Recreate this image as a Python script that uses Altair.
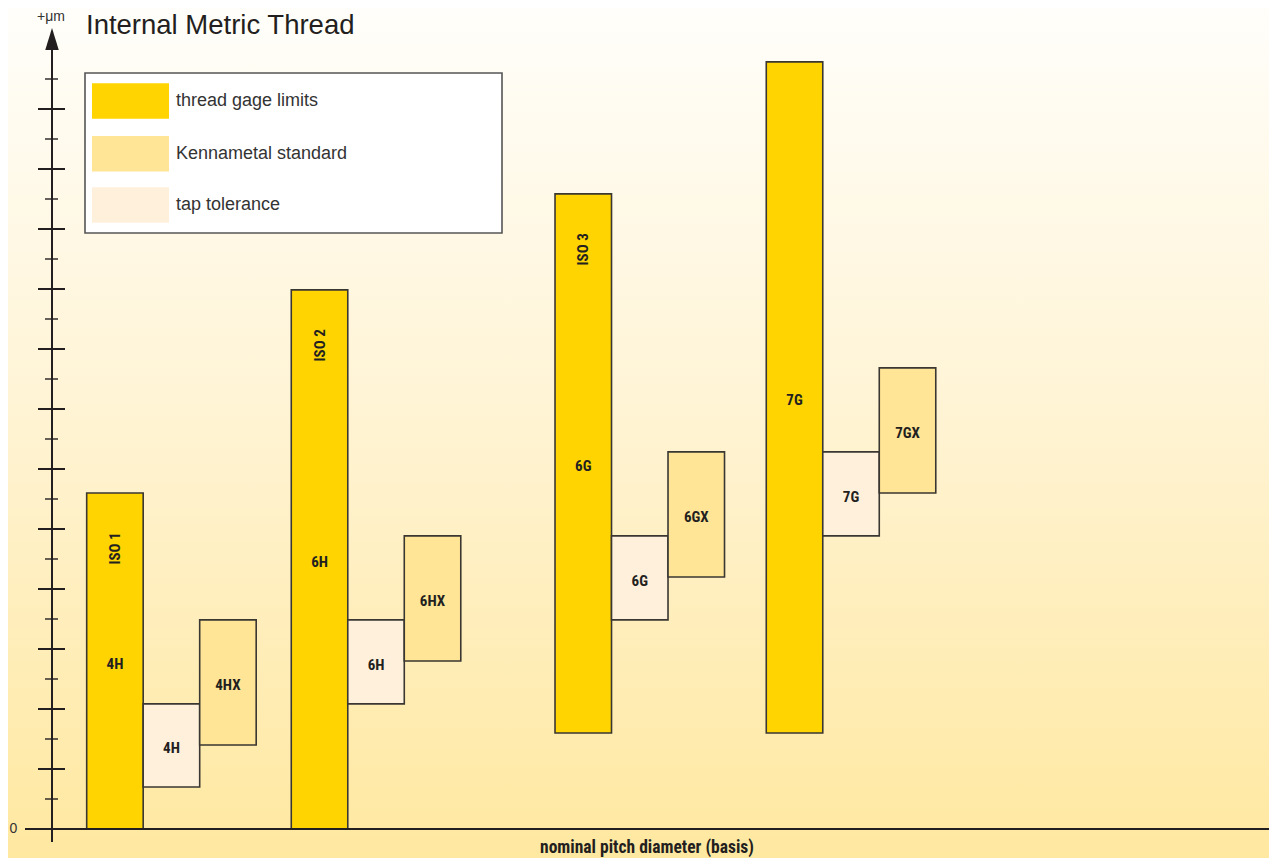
import altair as alt
import pandas as pd

# ---------------- data ----------------
# left edge of each group of three bars, in bar widths measured from the y axis
group_start = [0.614, 4.235, 8.903, 12.642]
iso_labels = ["ISO 1", "ISO 2", "ISO 3", ""]

gage_labels = ["4H", "6H", "6G", "7G"]
gage_low = [0.0, 0.0, 3.2, 3.2]
gage_high = [11.2, 17.97, 21.17, 25.57]

tap_labels = ["4H", "6H", "6G", "7G"]
tap_low = [1.4, 4.17, 6.97, 9.77]
tap_high = [4.17, 6.97, 9.77, 12.57]

kenn_labels = ["4HX", "6HX", "6GX", "7GX"]
kenn_low = [2.8, 5.6, 8.4, 11.2]
kenn_high = [6.97, 9.77, 12.57, 15.37]

series = ["thread gage limits", "Kennametal standard", "tap tolerance"]
major_ticks = [2, 4, 6, 8, 10, 12, 14, 16, 18, 20, 22, 24]
minor_ticks = [1, 3, 5, 7, 9, 11, 13, 15, 17, 19, 21, 23, 25]

title_text = "Internal Metric Thread"
unit_text = "+\u03bcm"
x_title = "nominal pitch diameter (basis)"

# ---------------- styles ----------------
colors = ["#FFD400", "#FFE595", "#FFF0DC"]
ink = "#231F20"
edge = "#3A3632"
cond = "Liberation Sans Narrow, Roboto Condensed, DejaVu Sans Condensed, sans-serif"
reg = "Liberation Sans, Arial, Helvetica, sans-serif"
W, H = 1261, 850

# ---------------- tables ----------------
rows = []
for i in range(len(group_start)):
    s = group_start[i]
    rows.append(dict(kind=series[0], x0=s, x1=s + 1, y0=gage_low[i], y1=gage_high[i], label=gage_labels[i]))
    rows.append(dict(kind=series[2], x0=s + 1, x1=s + 2, y0=tap_low[i], y1=tap_high[i], label=tap_labels[i]))
    rows.append(dict(kind=series[1], x0=s + 2, x1=s + 3, y0=kenn_low[i], y1=kenn_high[i], label=kenn_labels[i]))
bars_df = pd.DataFrame(rows)

iso_df = pd.DataFrame({"x0": group_start, "top": gage_high, "label": iso_labels})
iso_df = iso_df[iso_df["label"] != ""]

major_df = pd.DataFrame({"v": major_ticks})
minor_df = pd.DataFrame({"v": minor_ticks})
zero_df = pd.DataFrame({"v": [0], "t": ["0"]})
one = pd.DataFrame({"d": [0]})

xs = alt.Scale(domain=[-44 / 56.5, 1217 / 56.5], nice=False, zero=False)
ys = alt.Scale(domain=[-29 / 30, 821 / 30], nice=False, zero=False)

gradient = {
    "gradient": "linear", "x1": 0, "y1": 0, "x2": 0, "y2": 1,
    "stops": [
        {"offset": 0, "color": "#FFFEFA"},
        {"offset": 0.45, "color": "#FFF4D6"},
        {"offset": 1, "color": "#FFE8A0"},
    ],
}

bg = alt.Chart(one).mark_rect(fill=gradient, strokeWidth=0).encode(
    x=alt.value(0), x2=alt.value(W), y=alt.value(0), y2=alt.value(H)
)

bars = alt.Chart(bars_df).mark_rect(stroke=edge, strokeWidth=1.6).encode(
    x=alt.X("x0:Q", scale=xs, axis=None),
    x2="x1:Q",
    y=alt.Y("y0:Q", scale=ys, axis=None),
    y2="y1:Q",
    fill=alt.Fill("kind:N", scale=alt.Scale(domain=series, range=colors), legend=None),
)

bar_text = alt.Chart(bars_df).transform_calculate(
    xm="(datum.x0 + datum.x1) / 2", ym="(datum.y0 + datum.y1) / 2"
).mark_text(font=cond, fontWeight="bold", fontSize=15, color=ink, baseline="middle", align="center", dy=3).encode(
    x=alt.X("xm:Q", scale=xs, axis=None),
    y=alt.Y("ym:Q", scale=ys, axis=None),
    text="label:N",
)

iso_text = alt.Chart(iso_df).transform_calculate(
    xm="datum.x0 + 0.5", ym="datum.top - 1.85"
).mark_text(font=cond, fontWeight="bold", fontSize=15, color=ink, baseline="middle", align="center", angle=270).encode(
    x=alt.X("xm:Q", scale=xs, axis=None),
    y=alt.Y("ym:Q", scale=ys, axis=None),
    text="label:N",
)

major = alt.Chart(major_df).mark_rule(color=ink, strokeWidth=2).encode(
    y=alt.Y("v:Q", scale=ys, axis=None), x=alt.value(30), x2=alt.value(57)
)
minor = alt.Chart(minor_df).mark_rule(color=ink, strokeWidth=1.4).encode(
    y=alt.Y("v:Q", scale=ys, axis=None), x=alt.value(37), x2=alt.value(50)
)
zero_line = alt.Chart(zero_df).mark_rule(color=ink, strokeWidth=2).encode(
    y=alt.Y("v:Q", scale=ys, axis=None), x=alt.value(17), x2=alt.value(W)
)
zero_label = alt.Chart(zero_df).mark_text(font=reg, fontSize=14, color="#333333", align="center", baseline="middle").encode(
    y=alt.Y("v:Q", scale=ys, axis=None), x=alt.value(5.5), text="t:N"
)
axis_line = alt.Chart(one).mark_rule(color=ink, strokeWidth=2).encode(
    x=alt.value(44), y=alt.value(38), y2=alt.value(834)
)
arrow = alt.Chart(one).mark_point(
    shape="M0,-22L6.75,0L-6.75,0Z", size=4, filled=True, fill=ink, strokeWidth=0, opacity=1
).encode(x=alt.value(44), y=alt.value(42))

unit = alt.Chart(one).mark_text(text=unit_text, font=reg, fontSize=14, color="#333333", align="center", baseline="middle").encode(
    x=alt.value(43), y=alt.value(9)
)
title = alt.Chart(one).mark_text(text=title_text, font=reg, fontSize=27.5, color=ink, align="left", baseline="alphabetic").encode(
    x=alt.value(78), y=alt.value(25.5)
)
xlab = alt.Chart(one).mark_text(text=x_title, font=cond, fontWeight="bold", fontSize=17.5, color=ink, align="center", baseline="alphabetic").encode(
    x=alt.value(639), y=alt.value(845)
)

legend_box = alt.Chart(one).mark_rect(fill="white", stroke="#555555", strokeWidth=1.6).encode(
    x=alt.value(77), x2=alt.value(494), y=alt.value(65), y2=alt.value(225)
)
legend_layers = []
row_tops = [75.3, 128.0, 179.3]
for name, col, top in zip(series, colors, row_tops):
    legend_layers.append(
        alt.Chart(one).mark_rect(fill=col, strokeWidth=0).encode(
            x=alt.value(84), x2=alt.value(161), y=alt.value(top), y2=alt.value(top + 35.4)
        )
    )
    legend_layers.append(
        alt.Chart(one).mark_text(text=name, font=reg, fontSize=18, color="#333333", align="left", baseline="middle").encode(
            x=alt.value(168), y=alt.value(top + 17.5)
        )
    )

chart = alt.layer(
    bg, bars, bar_text, iso_text, zero_line, major, minor, axis_line, arrow,
    zero_label, unit, title, xlab, legend_box, *legend_layers
).properties(
    width=W, height=H, autosize=alt.AutoSizeParams(type="none"), padding=0
).configure_view(stroke=None)

chart.save("out.html", embed_options={"renderer": "svg", "actions": False})
